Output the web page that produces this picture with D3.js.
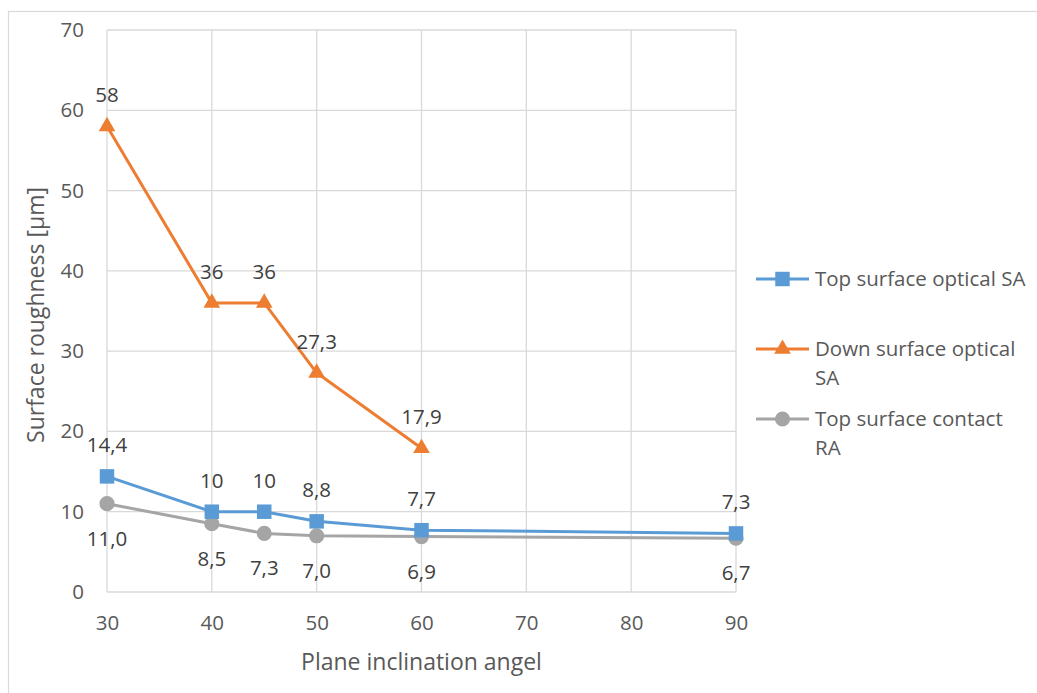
<!DOCTYPE html>
<html><head><meta charset="utf-8">
<script src="https://cdn.jsdelivr.net/npm/d3@7"></script>
<style>body{margin:0;background:#fff;} svg{display:block;font-family:"Open Sans",sans-serif;}</style>
</head><body>
<script>
const angles = [30, 40, 45, 50, 60, 90];
const topOptical = [14.4, 10, 10, 8.8, 7.7, 7.3];
const topOpticalLabels = ["14,4", "10", "10", "8,8", "7,7", "7,3"];
const downOptical = [58, 36, 36, 27.3, 17.9];
const downOpticalLabels = ["58", "36", "36", "27,3", "17,9"];
const topContact = [11.0, 8.5, 7.3, 7.0, 6.9, 6.7];
const topContactLabels = ["11,0", "8,5", "7,3", "7,0", "6,9", "6,7"];
const xTicks = [30, 40, 50, 60, 70, 80, 90];
const yTicks = [0, 10, 20, 30, 40, 50, 60, 70];
const seriesNames = ["Top surface optical SA", "Down surface optical SA", "Top surface contact RA"];

const W = 1037, H = 693;
const FONT = "'Open Sans', sans-serif";
const svg = d3.select("body").append("svg").attr("width", W).attr("height", H);
svg.append("rect").attr("x", 8.5).attr("y", 11.5).attr("width", W + 10).attr("height", H + 10)
  .attr("fill", "none").attr("stroke", "#d9d9d9").attr("stroke-width", 1.2);

const L = 107, R = 736, T = 30, B = 592;
const x = d3.scaleLinear().domain([30, 90]).range([L, R]);
const y = d3.scaleLinear().domain([0, 70]).range([B, T]);
const textCol = "#595959";

svg.append("g").selectAll("line").data(yTicks).join("line")
  .attr("x1", L).attr("x2", R).attr("y1", d => y(d)).attr("y2", d => y(d))
  .attr("stroke", "#d9d9d9").attr("stroke-width", 1.3);
svg.append("g").selectAll("line").data(xTicks).join("line")
  .attr("y1", T).attr("y2", B).attr("x1", d => x(d)).attr("x2", d => x(d))
  .attr("stroke", "#d9d9d9").attr("stroke-width", 1.3);

const xAxis = svg.append("g").attr("transform", `translate(0,${B})`)
  .call(d3.axisBottom(x).tickValues(xTicks).tickSize(0).tickPadding(23).tickFormat(d3.format("d")));
const yAxis = svg.append("g").attr("transform", `translate(${L},0)`)
  .call(d3.axisLeft(y).tickValues(yTicks).tickSize(0).tickPadding(23).tickFormat(d3.format("d")));
[xAxis, yAxis].forEach(g => {
  g.select(".domain").remove();
  g.selectAll("text").attr("fill", textCol).style("font-size", "20.5px").style("font-family", FONT);
});

svg.append("text").attr("x", (L + R) / 2).attr("y", 670).attr("text-anchor", "middle")
  .attr("fill", textCol).style("font-size", "23px").text("Plane inclination angel");
svg.append("text").attr("transform", `translate(44,${(T + B) / 2 + 4}) rotate(-90)`).attr("text-anchor", "middle")
  .attr("fill", textCol).style("font-size", "23px").text("Surface roughness [µm]");

const series = [
  {vals: topOptical, labels: topOpticalLabels, color: "#5B9BD5", marker: "square", pos: "above"},
  {vals: downOptical, labels: downOpticalLabels, color: "#ED7D31", marker: "triangle", pos: "above"},
  {vals: topContact, labels: topContactLabels, color: "#A5A5A5", marker: "circle", pos: "below"}
];
const symType = {square: d3.symbolSquare, triangle: d3.symbolTriangle, circle: d3.symbolCircle};
const symSize = {square: 210, triangle: 120, circle: 180};

const line = d3.line().x(d => x(d[0])).y(d => y(d[1]));
[series[2], series[0], series[1]].forEach(s => {
  const pts = s.vals.map((v, i) => [angles[i], v]);
  svg.append("path").datum(pts).attr("d", line).attr("fill", "none")
    .attr("stroke", s.color).attr("stroke-width", 3).attr("stroke-linejoin", "round");
  svg.append("g").selectAll("path").data(pts).join("path")
    .attr("transform", d => `translate(${x(d[0])},${y(d[1])})`)
    .attr("d", d3.symbol().type(symType[s.marker]).size(symSize[s.marker]))
    .attr("fill", s.color);
  svg.append("g").selectAll("text").data(pts).join("text")
    .attr("x", d => x(d[0])).attr("y", d => s.pos === "above" ? y(d[1]) - 24 : y(d[1]) + 42)
    .attr("text-anchor", "middle").attr("fill", "#404040").style("font-size", "20.5px")
    .text((d, i) => s.labels[i]);
});

const legendItems = [
  {s: series[0], lines: ["Top surface optical SA"], y: 279},
  {s: series[1], lines: ["Down surface optical", "SA"], y: 349},
  {s: series[2], lines: ["Top surface contact", "RA"], y: 419}
];
const lg = svg.append("g");
legendItems.forEach((it) => {
  lg.append("line").attr("x1", 756).attr("x2", 809).attr("y1", it.y).attr("y2", it.y)
    .attr("stroke", it.s.color).attr("stroke-width", 3);
  lg.append("path").attr("transform", `translate(782.5,${it.y})`)
    .attr("d", d3.symbol().type(symType[it.s.marker]).size(symSize[it.s.marker])).attr("fill", it.s.color);
  it.lines.forEach((t, j) => {
    lg.append("text").attr("x", 815).attr("y", it.y + 7 + j * 29).attr("fill", textCol)
      .style("font-size", "20.5px").text(t);
  });
});
</script>
</body></html>
